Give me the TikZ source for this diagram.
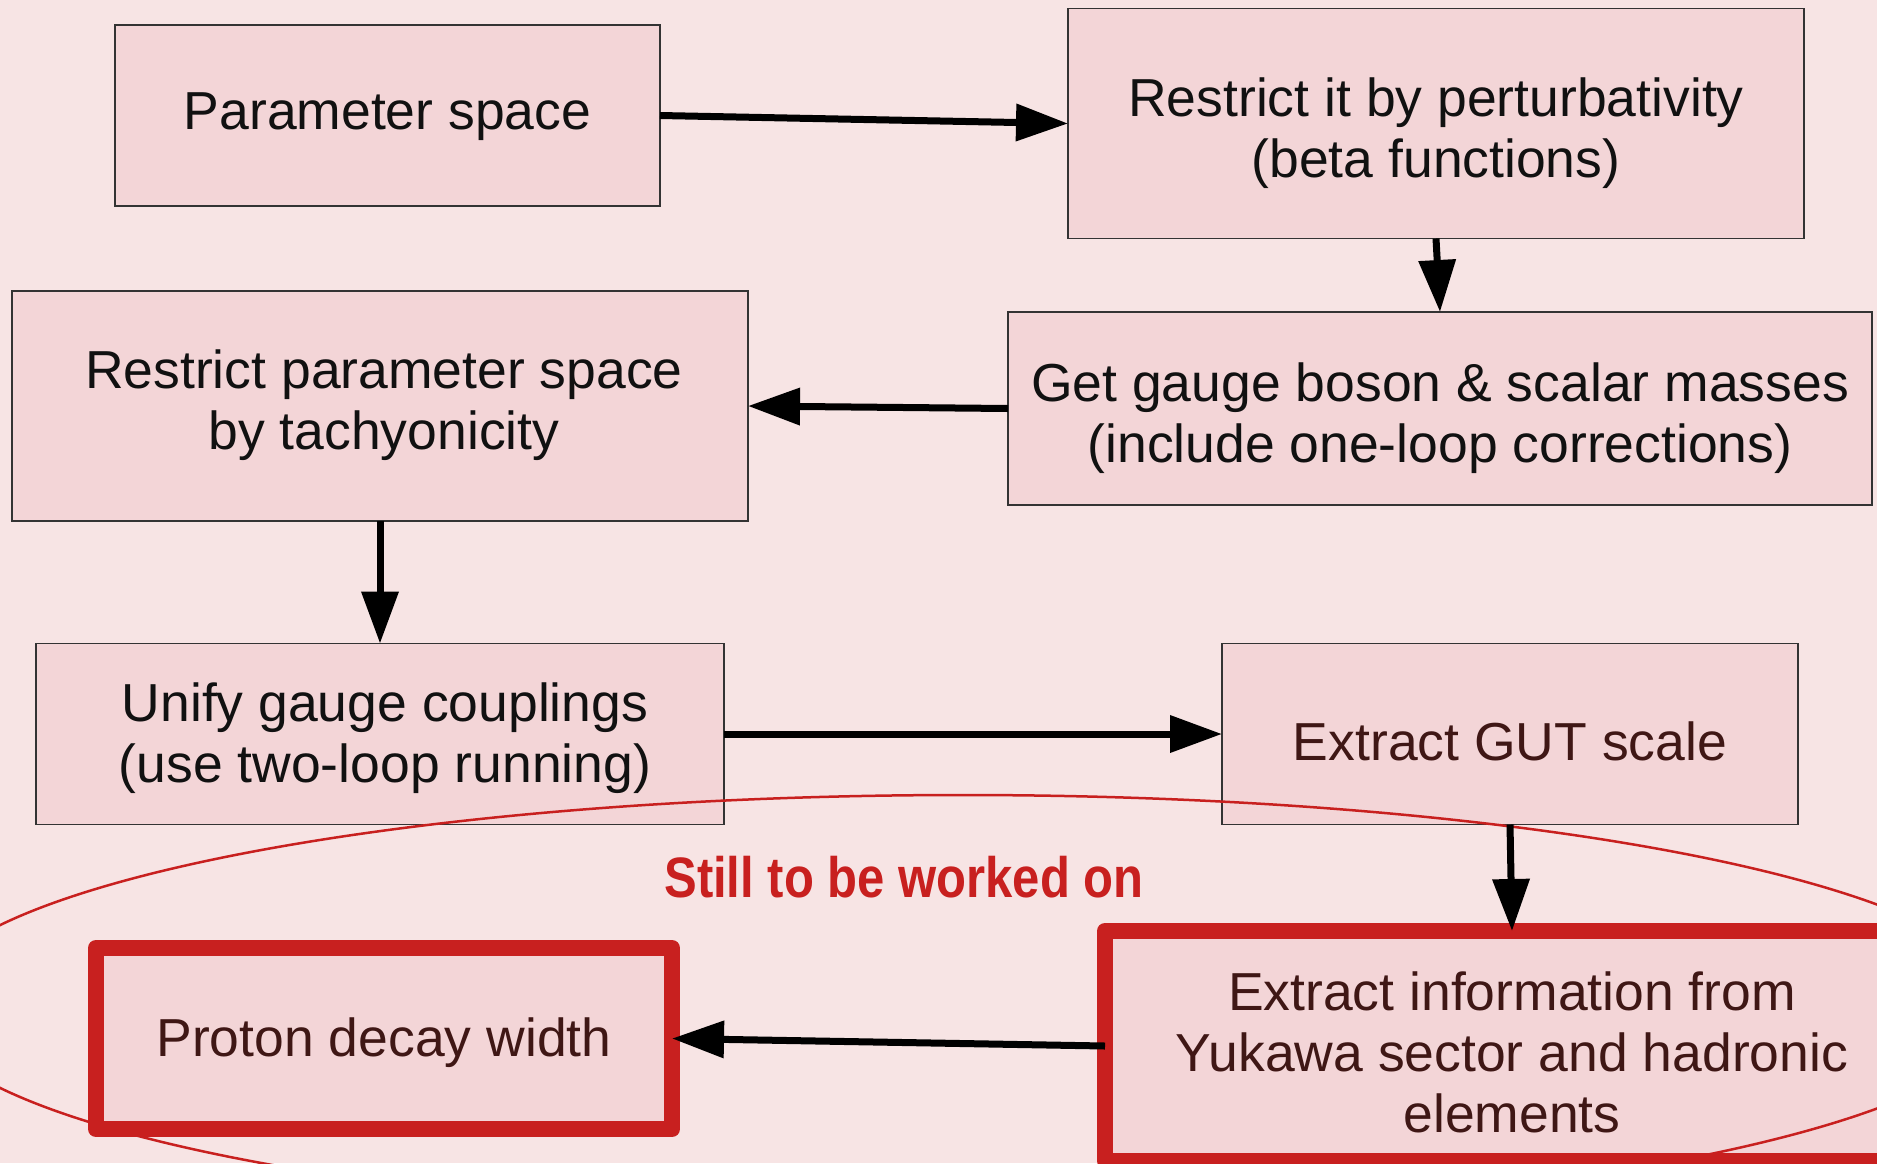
\documentclass[tikz,border=0pt]{standalone}
\usepackage{fontspec}
\usepackage{graphicx}
\setmainfont{Liberation Sans}
\usetikzlibrary{arrows.meta}
\definecolor{bgpink}{HTML}{F7E4E4}
\definecolor{boxpink}{HTML}{F3D5D7}
\definecolor{redline}{HTML}{C8201F}
\definecolor{darktext}{HTML}{111111}
\definecolor{browntext}{HTML}{3F1715}
\definecolor{boxborder}{HTML}{333333}
\tikzset{
  flowbox/.style={rectangle, draw=boxborder, line width=1.3pt, fill=boxpink,
    outer sep=0pt, inner sep=0pt},
  redbox/.style={flowbox, draw=redline, line width=16pt, line join=round},
  boxtext/.style={inner sep=0pt, align=center, text=darktext,
    font=\fontsize{53.5}{61}\selectfont},
  browntxt/.style={boxtext, text=browntext},
  flowarrow/.style={line width=7pt, -{Triangle[length=52pt,width=36pt]}},
}
\begin{document}
\begin{tikzpicture}[x=1pt,y=-1pt]
\useasboundingbox (0,0) rectangle (1877,1163);
\clip (0,0) rectangle (1877,1163);
\fill[bgpink] (0,0) rectangle (1877,1163);

\node[flowbox, minimum width=545pt, minimum height=181pt] (b1) at (387.5,115.5) {};
\node[flowbox, minimum width=736pt, minimum height=230pt] (b2) at (1436,123.5) {};
\node[flowbox, minimum width=736pt, minimum height=230pt] (b3) at (380,406) {};
\node[flowbox, minimum width=864pt, minimum height=193pt] (b4) at (1440,408.5) {};
\node[flowbox, minimum width=688pt, minimum height=181pt] (b5) at (380,734) {};
\node[flowbox, minimum width=576pt, minimum height=181pt] (b6) at (1510,734) {};
\node[redbox, minimum width=576pt, minimum height=181pt] (b7) at (384,1038.5) {};
\node[redbox, minimum width=814pt, minimum height=230pt] (b8) at (1512,1046) {};

\node[boxtext] (t1) at ([yshift=-1pt]b1.center) {Parameter space};
\node[boxtext] (t2) at ([yshift=-10pt]b2.center) {Restrict it by perturbativity\\(beta functions)};
\node[boxtext] (t3) at ([xshift=4pt,yshift=1pt]b3.center) {Restrict parameter space\\by tachyonicity};
\node[boxtext] (t4) at ([yshift=-10pt]b4.center) {Get gauge boson \& scalar masses\\(include one-loop corrections)};
\node[boxtext] (t5) at ([xshift=5pt,yshift=-4pt]b5.center) {Unify gauge couplings\\(use two-loop running)};
\node[browntxt] (t6) at ([yshift=-7pt]b6.center) {Extract GUT scale};
\node[browntxt] (t7) at ([yshift=-4pt]b7.center) {Proton decay width};
\node[browntxt] (t8) at ([yshift=-6pt]b8.center) {Extract information from\\Yukawa sector and hadronic\\elements};

\draw[redline, line width=2.5pt] (963,1006.5) ellipse [x radius=1043, y radius=211.5];

\node[text=redline, font=\fontsize{57}{66}\bfseries, inner sep=0pt] (still) at (904,877) {\scalebox{0.86}[1]{Still to be worked on}};

\draw[flowarrow] (b1.east) -- (b2.west);
\draw[flowarrow] (b2.south) -- (b4.north);
\draw[flowarrow] (b4.west) -- (b3.east);
\draw[flowarrow] (b3.south) -- (b5.north);
\draw[flowarrow] (b5.east) -- (b6.west);
\draw[flowarrow] (b6.south) -- (b8.north);
\draw[flowarrow] (b8.west) -- (b7.east);
\end{tikzpicture}
\end{document}
